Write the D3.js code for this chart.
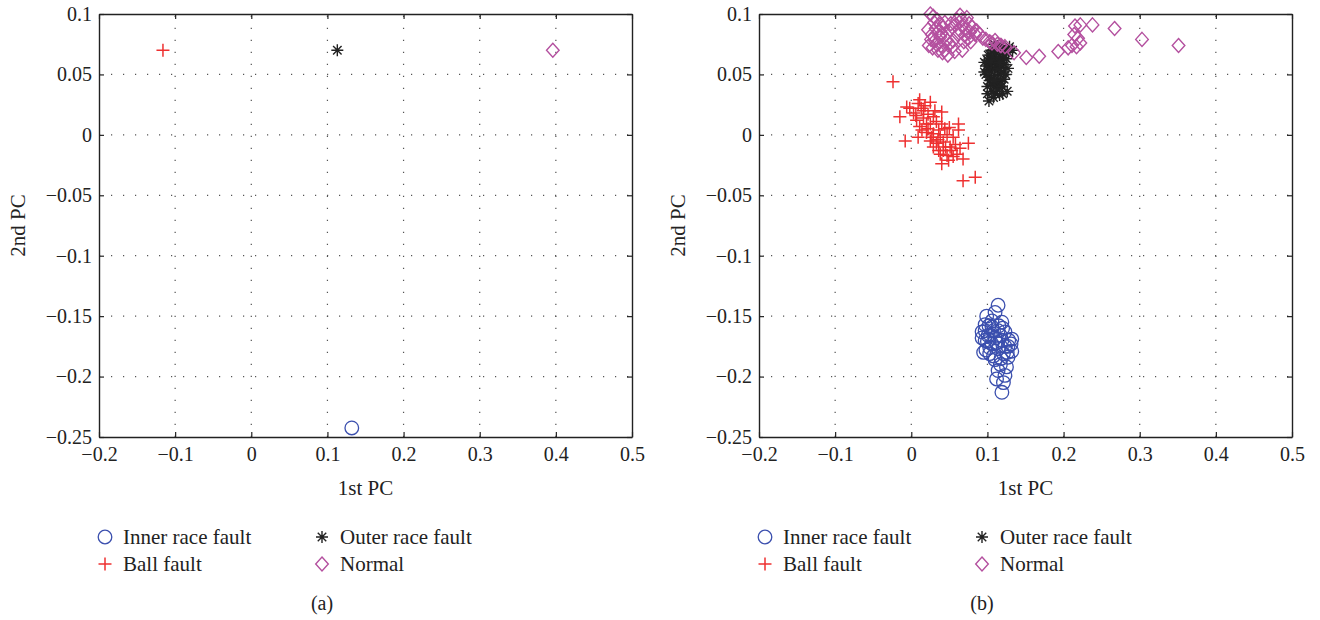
<!DOCTYPE html>
<html>
<head>
<meta charset="utf-8">
<script src="https://cdn.jsdelivr.net/npm/d3@7"></script>
<style>
  body { margin: 0; background: #fff; }
  text { font-family: "Liberation Serif", "Times New Roman", serif; fill: #222; }
</style>
</head>
<body>
<div id="chart"></div>
<script>
// tick values shared by both panels
var xTicks = [-0.2, -0.1, 0, 0.1, 0.2, 0.3, 0.4, 0.5];
var yTicks = [-0.25, -0.2, -0.15, -0.1, -0.05, 0, 0.05, 0.1];

var classNames = ['Inner race fault', 'Outer race fault', 'Ball fault', 'Normal'];

// panel (a): one point per class
var innerA = [[0.132, -0.2425]];
var outerA = [[0.113, 0.070]];
var ballA = [[-0.116, 0.070]];
var normalA = [[0.396, 0.070]];

// panel (b): scattered samples
var innerB = [
  [0.114, -0.141], [0.110, -0.147], [0.099, -0.150], [0.119, -0.155], [0.097, -0.157],
  [0.106, -0.159], [0.093, -0.163], [0.114, -0.162], [0.123, -0.163], [0.101, -0.166],
  [0.110, -0.168], [0.132, -0.169], [0.097, -0.170], [0.119, -0.170], [0.106, -0.173],
  [0.127, -0.175], [0.095, -0.180], [0.114, -0.177], [0.103, -0.181], [0.121, -0.181],
  [0.110, -0.186], [0.127, -0.184], [0.132, -0.179], [0.114, -0.195], [0.123, -0.199],
  [0.112, -0.202], [0.121, -0.205], [0.119, -0.213], [0.108, -0.162], [0.117, -0.166],
  [0.103, -0.176], [0.123, -0.175], [0.112, -0.172], [0.097, -0.162], [0.117, -0.190],
  [0.125, -0.192], [0.106, -0.154], [0.100, -0.171], [0.128, -0.170], [0.104, -0.166],
  [0.120, -0.160], [0.093, -0.168], [0.131, -0.173], [0.108, -0.183], [0.118, -0.185],
  [0.102, -0.158], [0.126, -0.180], [0.115, -0.158], [0.098, -0.178]
];
var outerB = [
  [0.100, 0.062], [0.104, 0.066], [0.108, 0.070], [0.112, 0.068], [0.116, 0.065],
  [0.120, 0.062], [0.103, 0.058], [0.107, 0.060], [0.111, 0.062], [0.115, 0.059],
  [0.119, 0.056], [0.101, 0.054], [0.105, 0.052], [0.109, 0.055], [0.113, 0.053],
  [0.117, 0.050], [0.121, 0.052], [0.102, 0.048], [0.106, 0.046], [0.110, 0.049],
  [0.114, 0.046], [0.118, 0.044], [0.104, 0.042], [0.108, 0.040], [0.112, 0.042],
  [0.116, 0.039], [0.106, 0.036], [0.110, 0.034], [0.102, 0.028], [0.108, 0.031],
  [0.120, 0.034], [0.126, 0.036], [0.113, 0.072], [0.118, 0.074], [0.124, 0.071],
  [0.128, 0.068], [0.109, 0.075], [0.099, 0.057], [0.123, 0.058], [0.111, 0.057],
  [0.107, 0.064], [0.115, 0.055], [0.103, 0.045], [0.113, 0.037], [0.122, 0.046],
  [0.096, 0.060], [0.098, 0.050], [0.125, 0.063], [0.127, 0.055], [0.124, 0.050],
  [0.100, 0.040], [0.129, 0.073], [0.133, 0.070], [0.105, 0.070], [0.117, 0.070],
  [0.096, 0.052], [0.101, 0.066], [0.119, 0.040], [0.114, 0.064], [0.105, 0.061],
  [0.109, 0.045], [0.116, 0.060], [0.122, 0.066], [0.100, 0.034], [0.116, 0.033]
];
var ballB = [
  [-0.024, 0.044], [0.011, 0.029], [0.025, 0.027], [-0.006, 0.023], [-0.015, 0.015],
  [-0.008, -0.005], [0.040, 0.019], [0.062, 0.009], [0.062, 0.004], [0.075, -0.007],
  [0.064, -0.011], [0.068, -0.020], [0.040, -0.024], [0.038, -0.016], [0.068, -0.038],
  [0.084, -0.035], [0.051, -0.010], [0.047, -0.017], [0.055, -0.018], [0.003, 0.018],
  [0.007, 0.012], [0.016, 0.014], [0.025, 0.009], [0.033, 0.011], [0.011, 0.007],
  [0.020, 0.002], [0.029, 0.001], [0.038, -0.002], [0.025, -0.005], [0.033, -0.007],
  [0.042, -0.006], [0.047, 0.000], [0.044, 0.005], [0.036, 0.004], [0.016, 0.020],
  [-0.002, 0.022], [0.009, -0.002], [0.029, -0.010], [0.055, -0.002], [0.049, -0.021],
  [0.060, -0.016], [0.036, -0.013], [0.020, 0.009], [0.029, 0.015], [0.022, 0.005],
  [0.040, 0.009], [0.009, 0.026], [0.042, -0.013], [0.018, 0.024], [0.031, 0.020],
  [0.006, 0.016], [0.014, 0.004], [0.027, -0.002], [0.035, -0.004], [0.045, -0.010],
  [0.053, -0.013], [0.058, -0.008], [0.050, 0.006], [0.022, 0.017], [0.013, 0.022]
];
var normalB = [
  [0.025, 0.100], [0.029, 0.098], [0.034, 0.095], [0.038, 0.091], [0.022, 0.087],
  [0.027, 0.083], [0.023, 0.074], [0.031, 0.078], [0.039, 0.074], [0.044, 0.070],
  [0.047, 0.078], [0.051, 0.087], [0.044, 0.093], [0.054, 0.073], [0.057, 0.069],
  [0.061, 0.083], [0.060, 0.095], [0.064, 0.099], [0.068, 0.091], [0.071, 0.087],
  [0.073, 0.097], [0.069, 0.077], [0.075, 0.080], [0.077, 0.085], [0.080, 0.089],
  [0.067, 0.070], [0.084, 0.083], [0.094, 0.080], [0.103, 0.077], [0.110, 0.078],
  [0.117, 0.074], [0.123, 0.073], [0.032, 0.088], [0.040, 0.084], [0.035, 0.070],
  [0.048, 0.066], [0.028, 0.072], [0.055, 0.078], [0.038, 0.081], [0.030, 0.093],
  [0.036, 0.086], [0.042, 0.089], [0.046, 0.083], [0.050, 0.075], [0.058, 0.091],
  [0.063, 0.087], [0.066, 0.095], [0.070, 0.082], [0.076, 0.092], [0.078, 0.077],
  [0.026, 0.079], [0.033, 0.075], [0.041, 0.068], [0.052, 0.092], [0.086, 0.086],
  [0.090, 0.083], [0.098, 0.079], [0.106, 0.076], [0.113, 0.075],
  [0.118, 0.074], [0.135, 0.068], [0.151, 0.064], [0.168, 0.065], [0.193, 0.069],
  [0.206, 0.072], [0.211, 0.074], [0.215, 0.090], [0.222, 0.091], [0.238, 0.091],
  [0.214, 0.083], [0.219, 0.080], [0.222, 0.076], [0.217, 0.073], [0.267, 0.088],
  [0.303, 0.079], [0.351, 0.074]
];

var colours = {
  inner: '#3b4fae',
  outer: '#222222',
  ball: '#ee3030',
  normal: '#b4509f',
  axis: '#222222',
  grid: '#555555'
};

var width = 1320;
var height = 620;
var plotTop = 14, plotBottom = 437;

var svg = d3.select('#chart')
  .append('svg')
  .attr('width', width)
  .attr('height', height);

// draw one marker shape centred on 0,0
function marker(g, kind) {
  if (kind === 'inner') {
    g.append('circle').attr('r', 6.8)
      .attr('fill', 'none').attr('stroke', colours.inner).attr('stroke-width', 1.3);
  } else if (kind === 'ball') {
    g.append('path').attr('d', 'M-6.5,0H6.5M0,-6.5V6.5')
      .attr('fill', 'none').attr('stroke', colours.ball).attr('stroke-width', 1.5);
  } else if (kind === 'outer') {
    var s = 6, d = s * Math.SQRT1_2;
    g.append('path')
      .attr('d', 'M' + -s + ',0H' + s + 'M0,' + -s + 'V' + s +
        'M' + -d + ',' + -d + 'L' + d + ',' + d + 'M' + -d + ',' + d + 'L' + d + ',' + -d)
      .attr('fill', 'none').attr('stroke', colours.outer).attr('stroke-width', 1.4);
  } else {
    g.append('path').attr('d', 'M0,-7L6.3,0L0,7L-6.3,0Z')
      .attr('fill', 'none').attr('stroke', colours.normal).attr('stroke-width', 1.4);
  }
}

function drawPanel(left, right, sets, tag) {
  var x = d3.scaleLinear().domain([-0.2, 0.5]).range([left, right]);
  var y = d3.scaleLinear().domain([-0.25, 0.1]).range([plotBottom, plotTop]);
  var g = svg.append('g');

  // dotted grid
  g.append('g').selectAll('line')
    .data(xTicks.slice(1, -1)).enter().append('line')
    .attr('x1', function(d) { return x(d); }).attr('x2', function(d) { return x(d); })
    .attr('y1', plotBottom).attr('y2', plotTop)
    .attr('stroke', colours.grid).attr('stroke-width', 1.2)
    .attr('stroke-dasharray', '1.2,10.8');
  g.append('g').selectAll('line')
    .data(yTicks.slice(1, -1)).enter().append('line')
    .attr('y1', function(d) { return y(d); }).attr('y2', function(d) { return y(d); })
    .attr('x1', left).attr('x2', right)
    .attr('stroke', colours.grid).attr('stroke-width', 1.2)
    .attr('stroke-dasharray', '1.2,10.8');

  // points, in the order they were plotted
  var order = ['inner', 'ball', 'outer', 'normal'];
  order.forEach(function(kind) {
    g.append('g').selectAll('g')
      .data(sets[kind]).enter().append('g')
      .attr('transform', function(d) { return 'translate(' + x(d[0]) + ',' + y(d[1]) + ')'; })
      .each(function() { marker(d3.select(this), kind); });
  });

  var fmt = d3.format('~g');
  var axes = [
    { ax: d3.axisBottom(x).tickValues(xTicks).tickFormat(fmt), t: 'translate(0,' + plotBottom + ')', pad: 10 },
    { ax: d3.axisTop(x).tickValues(xTicks).tickFormat(''), t: 'translate(0,' + plotTop + ')', pad: 7 },
    { ax: d3.axisLeft(y).tickValues(yTicks).tickFormat(fmt), t: 'translate(' + left + ',0)', pad: 7 },
    { ax: d3.axisRight(y).tickValues(yTicks).tickFormat(''), t: 'translate(' + right + ',0)', pad: 7 }
  ];
  axes.forEach(function(a) {
    var ag = g.append('g').attr('transform', a.t)
      .call(a.ax.tickSizeInner(-5).tickSizeOuter(0).tickPadding(a.pad));
    ag.select('.domain').attr('stroke', colours.axis).attr('stroke-width', 1.4);
    ag.selectAll('.tick line').attr('stroke', colours.axis).attr('stroke-width', 1.2);
    ag.selectAll('.tick text').style('font-size', '20px')
      .style('font-family', '"Liberation Serif", serif').attr('fill', '#222');
  });

  // axis titles
  g.append('text')
    .attr('x', (left + right) / 2).attr('y', 495)
    .attr('text-anchor', 'middle').style('font-size', '21px')
    .text('1st PC');
  g.append('text')
    .attr('transform', 'translate(' + (left - 74) + ',' + (plotTop + plotBottom) / 2 + ') rotate(-90)')
    .attr('text-anchor', 'middle').style('font-size', '21px')
    .text('2nd PC');

  // legend, two columns
  var legend = [
    { kind: 'inner', name: classNames[0], col: 0, row: 0 },
    { kind: 'outer', name: classNames[1], col: 1, row: 0 },
    { kind: 'ball', name: classNames[2], col: 0, row: 1 },
    { kind: 'normal', name: classNames[3], col: 1, row: 1 }
  ];
  legend.forEach(function(l) {
    var lx = left + 6 + l.col * 217;
    var ly = 537 + l.row * 27;
    marker(g.append('g').attr('transform', 'translate(' + lx + ',' + ly + ')'), l.kind);
    g.append('text').attr('x', lx + 18).attr('y', ly + 7)
      .style('font-size', '21px').text(l.name);
  });

  g.append('text')
    .attr('x', left + 223).attr('y', 610)
    .attr('text-anchor', 'middle').style('font-size', '20px')
    .text(tag);
}

drawPanel(99, 632, { inner: innerA, outer: outerA, ball: ballA, normal: normalA }, '(a)');
drawPanel(759, 1292, { inner: innerB, outer: outerB, ball: ballB, normal: normalB }, '(b)');
</script>
</body>
</html>
